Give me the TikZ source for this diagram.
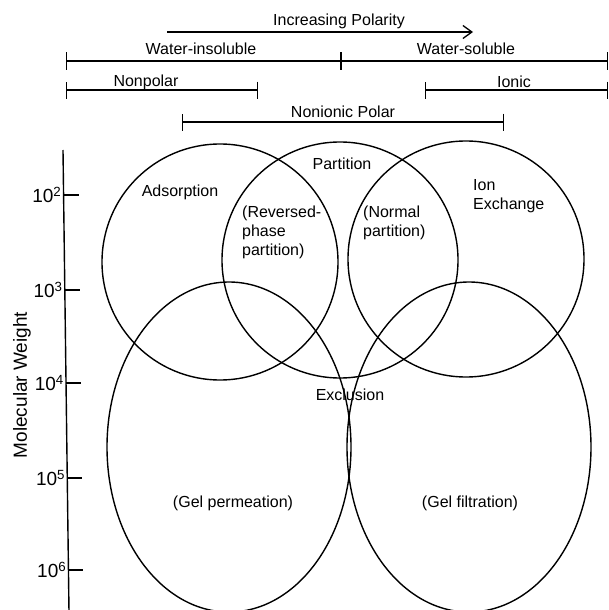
\documentclass[tikz,border=0pt]{standalone}
\usepackage{fontspec}
\setmainfont{Liberation Sans}
\usepackage{tikz}
\usetikzlibrary{arrows.meta}
\usetikzlibrary{shapes.geometric}
\usetikzlibrary{positioning}

\begin{document}
\begin{tikzpicture}[x=1pt, y=-1pt]
    \tikzset{ ring/.style ={draw=black, line width=1.4pt, circle, minimum size=236pt, inner sep=0pt} }
    \tikzset{ oval/.style ={draw=black, line width=1.4pt, ellipse, minimum width=244pt, minimum height=330pt, inner sep=0pt} }
    \tikzset{ lbl/.style  ={font=\fontsize{16}{19}\selectfont, inner sep=1pt} }
    \tikzset{ axl/.style  ={font=\fontsize{19}{22}\selectfont, inner sep=1pt} }
    \tikzset{ scl/.style  ={line width=1.3pt, {Bar[width=17pt]}-{Bar[width=17pt]}} }
    \tikzset{ tck/.style  ={line width=1.4pt} }

    \useasboundingbox[fill=white] (0,0) rectangle (608,610);

    % polarity scales
    \coordinate (ar_l) at (167, 32);  \coordinate (ar_r) at (473, 32);
    \coordinate (wt_l) at ( 66, 61);  \coordinate (wt_m) at (341, 61);  \coordinate (wt_r) at (608, 61);
    \coordinate (np_l) at ( 66, 90);  \coordinate (np_r) at (258, 90);
    \coordinate (io_l) at (425, 90);  \coordinate (io_r) at (608, 90);
    \coordinate (ni_l) at (182,122);  \coordinate (ni_r) at (504,122);

    \draw[line width=1.3pt, -{Straight Barb[length=9pt, width=13pt]}] (ar_l) -- (ar_r);
    \draw[scl] (wt_l) -- (wt_m);
    \draw[scl] (wt_m) -- (wt_r);
    \draw[scl] (np_l) -- (np_r);
    \draw[scl] (io_l) -- (io_r);
    \draw[scl] (ni_l) -- (ni_r);

    \node[lbl] (t_pol) at (339, 21) {Increasing Polarity};
    \node[lbl] (t_wis) at (201, 49) {Water-insoluble};
    \node[lbl] (t_wso) at (466, 49) {Water-soluble};
    \node[lbl] (t_npl) at (146, 82) {Nonpolar};
    \node[lbl] (t_ion) at (514, 82) {Ionic};
    \node[lbl] (t_nip) at (343,112) {Nonionic Polar};

    % molecular weight axis
    \coordinate (ax_t) at (63,150);
    \coordinate (ax_b) at (69,612);
    \draw[tck] (ax_t) -- (ax_b);
    \foreach \e/\y in {2/195, 3/290, 4/383, 5/478, 6/570} {
        \coordinate (tk\e) at ({63+(\y-150)*6/462}, \y);
        \draw[tck] (tk\e) -- ++(15,0);
        \node[axl, anchor=east] (n\e) at ([xshift=-1pt]tk\e) {10\textsuperscript{\e}};
    }
    \node[axl, rotate=90] (t_mw) at (22,385) {Molecular Weight};

    % separation modes
    \node[ring] (ads)  at (220,262) {};
    \node[ring] (part) at (340,260) {};
    \node[ring] (ionx) at (466,259) {};
    \node[oval] (gelp) at (229,447) {};
    \node[oval] (gelf) at (469,447) {};

    \node[lbl]                          (t_ads) at (180,192) {Adsorption};
    \node[lbl]                          (t_par) at (342,164) {Partition};
    \node[lbl, anchor=west, align=left] (t_rev) at (241,232) {(Reversed-\\phase\\partition)};
    \node[lbl, anchor=west, align=left] (t_nrm) at (362,223) {(Normal\\partition)};
    \node[lbl, anchor=west, align=left] (t_iex) at (472,196) {Ion\\Exchange};
    \node[lbl]                          (t_exc) at (350,395) {Exclusion};
    \node[lbl]                          (t_gpm) at (233,503) {(Gel permeation)};
    \node[lbl]                          (t_gfl) at (470,503) {(Gel filtration)};
\end{tikzpicture}
\end{document}
